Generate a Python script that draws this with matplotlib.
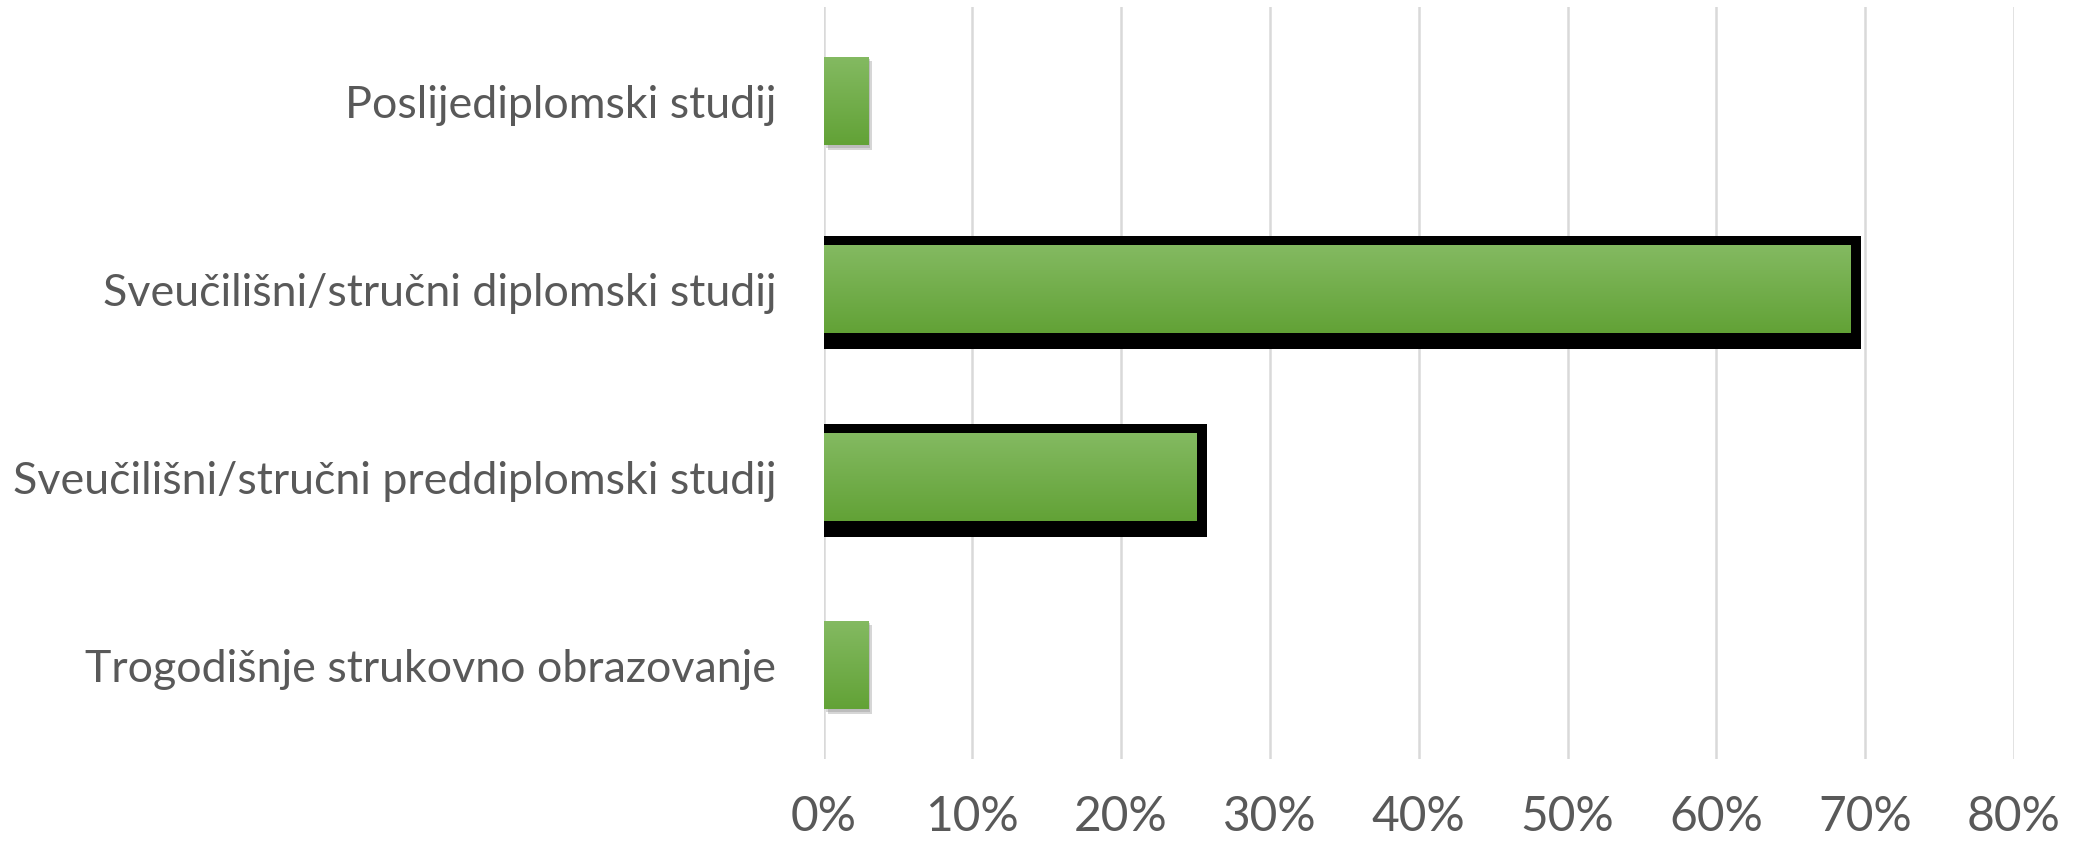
#!/usr/bin/env python3
"""Horizontal bar chart: education level distribution (recreated)."""

import numpy as np
import matplotlib.pyplot as plt
import matplotlib.patheffects as pe

# -----------------------------
# DATA
# -----------------------------
categories = [
    "Poslijediplomski studij",
    "Sveučilišni/stručni diplomski studij",
    "Sveučilišni/stručni preddiplomski studij",
    "Trogodišnje strukovno obrazovanje",
]
values = [3, 69, 25, 3]                    # percent
highlighted = [False, True, True, False]   # bars with black frame
x_ticks = [0, 10, 20, 30, 40, 50, 60, 70, 80]

# -----------------------------
# STYLE
# -----------------------------
plt.rcParams["font.family"] = ["Lato", "DejaVu Sans"]
TEXT_COLOR = "#595959"
GRID_COLOR = "#d9d9d9"
TOP_GREEN = np.array([132, 186, 98]) / 255
BOT_GREEN = np.array([98, 162, 54]) / 255
BAR_H = 0.473

W, H, DPI = 2079, 842, 100
fig = plt.figure(figsize=(W / DPI, H / DPI), dpi=DPI)
ax = fig.add_axes([823.5 / W, 1 - 759 / H, (2014 - 823.5) / W, (759 - 7) / H])

ypos = np.arange(len(categories))[::-1]   # first category on top
ax.set_xlim(0, 80)
ax.set_ylim(-0.5, len(categories) - 0.5)

# pixel -> data helpers for the frame / shadow offsets
px_x = 80 / (2014 - 823.5)
px_y = len(categories) / (759 - 7)

grad = np.linspace(0, 1, 256)[:, None, None]
grad_img = TOP_GREEN * (1 - grad) + BOT_GREEN * grad

for y, v, hl in zip(ypos, values, highlighted):
    if hl:
        # black frame sits outside the fill, heavier on bottom/right
        top_pad, bot_pad, right_pad = 9 * px_y, 16 * px_y, 11 * px_x
        ax.barh(y + (top_pad - bot_pad) / 2, v + right_pad,
                height=BAR_H + top_pad + bot_pad, color="black", zorder=2)
        bar = ax.barh(y, v, height=BAR_H, color="none", zorder=3)[0]
    else:
        bar = ax.barh(y, v, height=BAR_H, color="#70ad47", zorder=3)[0]
        bar.set_path_effects([
            pe.SimplePatchShadow(offset=(3, -3.5), shadow_rgbFace="#8c8c8c", alpha=0.35),
            pe.SimplePatchShadow(offset=(1.5, -2), shadow_rgbFace="#8c8c8c", alpha=0.35),
            pe.Normal(),
        ])
    im = ax.imshow(grad_img, extent=[0, v, y - BAR_H / 2, y + BAR_H / 2],
                   aspect="auto", origin="upper", zorder=4)
    im.set_clip_path(bar)

ax.set_yticks(ypos)
ax.set_yticklabels(categories)
ax.set_xticks(x_ticks)
ax.set_xticklabels([f"{t}%" for t in x_ticks])

ax.tick_params(axis="y", length=0, pad=34, labelsize=32.2, labelcolor=TEXT_COLOR)
ax.tick_params(axis="x", length=0, pad=26, labelsize=34.5, labelcolor=TEXT_COLOR)

ax.xaxis.grid(True, color=GRID_COLOR, linewidth=1.8, zorder=0)
ax.set_axisbelow(True)
for s in ax.spines.values():
    s.set_visible(False)

fig.savefig("out.png", dpi=DPI)
